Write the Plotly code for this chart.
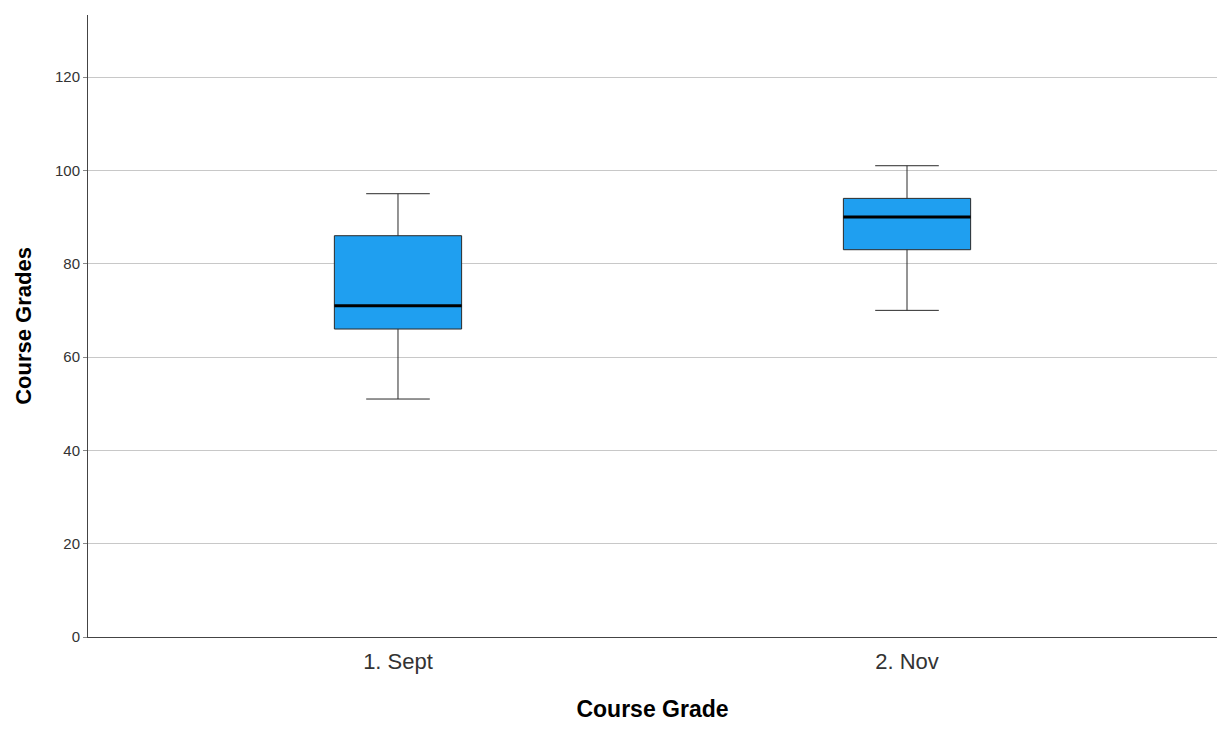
import plotly.graph_objects as go

# Five-number summaries of course grades per term
terms = ["1. Sept", "2. Nov"]
lower_whisker = [51, 70]
q1 = [66, 83]
median = [71, 90]
q3 = [86, 94]
upper_whisker = [95, 101]

positions = list(range(len(terms)))
box_width = 0.25

fig = go.Figure()

fig.add_trace(go.Box(
    x=positions,
    q1=q1,
    median=median,
    q3=q3,
    lowerfence=lower_whisker,
    upperfence=upper_whisker,
    width=box_width,
    whiskerwidth=0.5,
    fillcolor="#1f9ff0",
    line=dict(color="#2a2a2a", width=1),
    boxpoints=False,
    hoverinfo="skip",
    showlegend=False,
))

# Heavier median bars drawn over each box
for p, m in zip(positions, median):
    fig.add_trace(go.Scatter(
        x=[p - box_width / 2, p + box_width / 2],
        y=[m, m],
        mode="lines",
        line=dict(color="#000000", width=3),
        hoverinfo="skip",
        showlegend=False,
    ))

font_family = "Liberation Sans, Arial, sans-serif"

fig.update_layout(
    width=1221,
    height=738,
    margin=dict(l=88, r=4, t=15, b=101),
    paper_bgcolor="white",
    plot_bgcolor="white",
    font=dict(family=font_family, color="#333333"),
    xaxis=dict(
        range=[-0.609, 1.609],
        tickmode="array",
        tickvals=positions,
        ticktext=terms,
        tickfont=dict(size=22, color="#333333"),
        showgrid=False,
        zeroline=False,
        showline=True,
        linecolor="#444444",
        linewidth=1,
        ticks="outside",
        ticklen=5,
        tickcolor="rgba(0,0,0,0)",
        title=dict(text="<b>Course Grade</b>", font=dict(size=23, color="#000000"), standoff=27),
    ),
    yaxis=dict(
        range=[0, 133.3],
        tickmode="array",
        tickvals=[0, 20, 40, 60, 80, 100, 120],
        tickfont=dict(size=15, color="#333333"),
        showgrid=True,
        gridcolor="#c8c8c8",
        gridwidth=1,
        zeroline=False,
        showline=True,
        linecolor="#444444",
        linewidth=1,
        ticks="outside",
        ticklen=4,
        tickcolor="#888888",
        title=dict(text="<b>Course Grades</b>", font=dict(size=22, color="#000000"), standoff=17),
    ),
)

fig.write_html("out.html")
